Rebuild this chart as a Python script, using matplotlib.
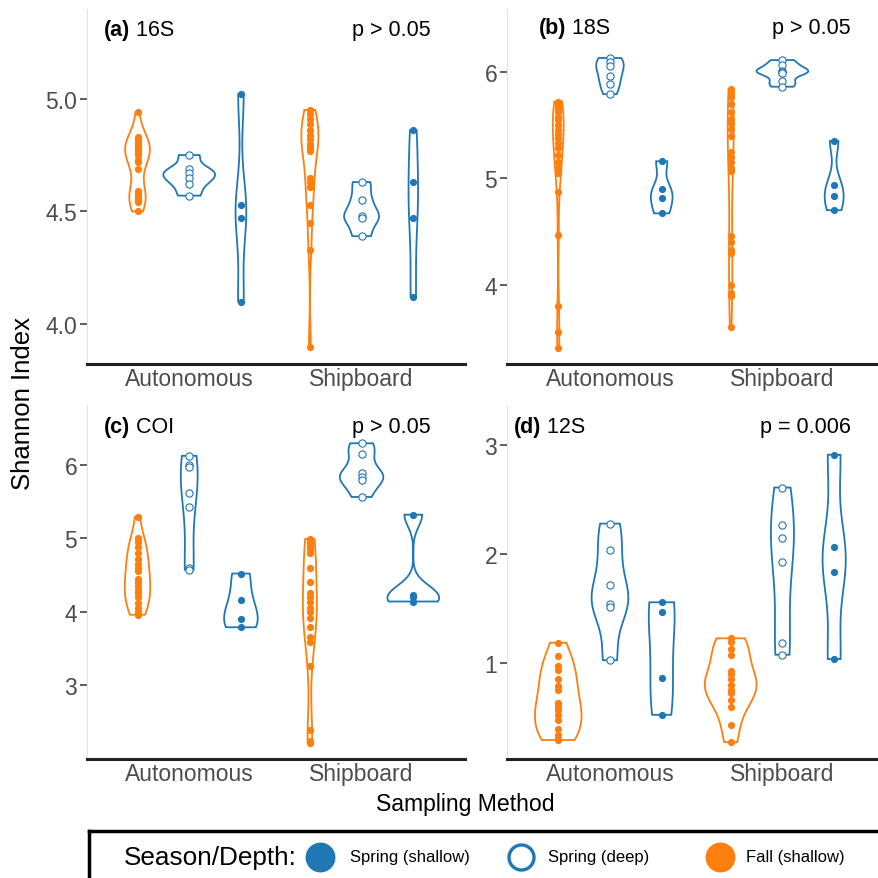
import numpy as np
import matplotlib
matplotlib.use("Agg")
import matplotlib.pyplot as plt

plt.rcParams['font.family'] = ['Liberation Sans', 'DejaVu Sans']

# ---------------- data ----------------
methods = ["Autonomous", "Shipboard"]
groups = ["Fall (shallow)", "Spring (deep)", "Spring (shallow)"]
legend_order = ["Spring (shallow)", "Spring (deep)", "Fall (shallow)"]

# 16S
s16_auto_fall = [4.94, 4.83, 4.82, 4.81, 4.80, 4.79, 4.78, 4.77, 4.76, 4.75, 4.73, 4.72, 4.69,
                 4.59, 4.58, 4.57, 4.56, 4.55, 4.54, 4.50]
s16_auto_deep = [4.75, 4.69, 4.67, 4.65, 4.62, 4.57]
s16_auto_shal = [5.02, 4.53, 4.47, 4.10]
s16_ship_fall = [4.95, 4.93, 4.91, 4.89, 4.86, 4.84, 4.82, 4.80, 4.79, 4.78, 4.77, 4.65, 4.63,
                 4.61, 4.53, 4.45, 4.33, 3.90]
s16_ship_deep = [4.63, 4.55, 4.48, 4.47, 4.39]
s16_ship_shal = [4.86, 4.63, 4.47, 4.12]

# 18S
s18_auto_fall = [5.72, 5.70, 5.68, 5.65, 5.62, 5.58, 5.55, 5.50, 5.45, 5.42, 5.38, 5.33, 5.28,
                 5.22, 5.15, 5.10, 5.05, 4.87, 4.47, 3.80, 3.56, 3.41]
s18_auto_deep = [6.13, 6.09, 6.05, 5.96, 5.89, 5.79]
s18_auto_shal = [5.16, 4.90, 4.81, 4.67]
s18_ship_fall = [5.84, 5.80, 5.76, 5.70, 5.62, 5.56, 5.52, 5.46, 5.40, 5.25, 5.20, 5.15, 5.10,
                 5.07, 4.46, 4.40, 4.33, 4.30, 4.00, 3.92, 3.89, 3.60]
s18_ship_deep = [6.11, 6.06, 6.01, 6.00, 5.99, 5.91, 5.86]
s18_ship_shal = [5.35, 4.94, 4.83, 4.70]

# COI
coi_auto_fall = [5.29, 5.00, 4.95, 4.88, 4.80, 4.72, 4.65, 4.60, 4.55, 4.45, 4.40, 4.35, 4.30,
                 4.25, 4.20, 4.12, 4.05, 4.00, 3.96]
coi_auto_deep = [6.12, 6.00, 5.97, 5.61, 5.43, 4.59, 4.57]
coi_auto_shal = [4.52, 4.16, 3.90, 3.79]
coi_ship_fall = [4.99, 4.95, 4.90, 4.85, 4.80, 4.59, 4.40, 4.25, 4.20, 4.13, 4.05, 4.00, 3.92,
                 3.79, 3.66, 3.59, 3.27, 2.39, 2.25, 2.22]
coi_ship_deep = [6.29, 6.15, 5.89, 5.83, 5.79, 5.56]
coi_ship_shal = [5.32, 4.23, 4.20, 4.14]

# 12S
s12_auto_fall = [1.19, 1.07, 0.98, 0.94, 0.86, 0.79, 0.76, 0.64, 0.61, 0.57, 0.53, 0.48, 0.40,
                 0.35, 0.31, 0.30]
s12_auto_deep = [2.28, 2.04, 1.72, 1.54, 1.52, 1.03]
s12_auto_shal = [1.56, 1.47, 0.87, 0.53]
s12_ship_fall = [1.23, 1.20, 1.13, 1.08, 0.93, 0.90, 0.86, 0.80, 0.76, 0.73, 0.67, 0.60, 0.44, 0.28]
s12_ship_deep = [2.61, 2.27, 2.15, 1.93, 1.19, 1.08]
s12_ship_shal = [2.91, 2.07, 1.84, 1.04]

panel_letters = ["(a)", "(b)", "(c)", "(d)"]
panel_markers = ["16S", "18S", "COI", "12S"]
panel_pvals = ["p > 0.05", "p > 0.05", "p > 0.05", "p = 0.006"]
panel_yticks = [[4.0, 4.5, 5.0], [4, 5, 6], [3, 4, 5, 6], [1, 2, 3]]
panel_ytick_labels = [["4.0", "4.5", "5.0"], ["4", "5", "6"], ["3", "4", "5", "6"], ["1", "2", "3"]]

panel_data = [
    [[s16_auto_fall, s16_auto_deep, s16_auto_shal], [s16_ship_fall, s16_ship_deep, s16_ship_shal]],
    [[s18_auto_fall, s18_auto_deep, s18_auto_shal], [s18_ship_fall, s18_ship_deep, s18_ship_shal]],
    [[coi_auto_fall, coi_auto_deep, coi_auto_shal], [coi_ship_fall, coi_ship_deep, coi_ship_shal]],
    [[s12_auto_fall, s12_auto_deep, s12_auto_shal], [s12_ship_fall, s12_ship_deep, s12_ship_shal]],
]

# ---------------- styles ----------------
ORANGE = "#ff7f0e"
BLUE = "#1f77b4"
group_color = {"Fall (shallow)": ORANGE, "Spring (deep)": BLUE, "Spring (shallow)": BLUE}
group_filled = {"Fall (shallow)": True, "Spring (deep)": False, "Spring (shallow)": True}

W, H = 879, 879
fig = plt.figure(figsize=(W / 100, H / 100), dpi=100)

def box(l, r, t, b):
    return [l / W, 1 - b / H, (r - l) / W, (b - t) / H]

panel_boxes = [box(87, 465, 10, 365), box(507, 879, 10, 365),
               box(87, 465, 406, 760), box(507, 879, 406, 760)]
panel_ylim = [(3.823, 5.398), (3.255, 6.59), (2.0, 6.81), (0.126, 3.365)]
panel_xlim = [(0.407, 2.6), (0.403, 2.56), (0.407, 2.6), (0.403, 2.56)]
title_pos = [(104, 36), (539, 34), (104, 433), (514, 433)]
pval_pos = [(431, 36), (851, 34), (431, 433), (851, 433)]

FS_TITLE = 15.5
FS_TICK = 16.5
DODGE = 0.9
NG = len(groups)


def kde_nrd0(vals, grid):
    v = np.asarray(vals, float)
    n = len(v)
    sd = np.std(v, ddof=1)
    q75, q25 = np.percentile(v, [75, 25])
    iqr = (q75 - q25) / 1.34
    lo = min(sd, iqr) if iqr > 0 else sd
    bw = 0.9 * lo * n ** (-0.2)
    z = (grid[:, None] - v[None, :]) / bw
    return np.exp(-0.5 * z ** 2).sum(axis=1) / (n * bw * np.sqrt(2 * np.pi))


for p in range(4):
    ax = fig.add_axes(panel_boxes[p])
    ax.set_xlim(*panel_xlim[p])
    ax.set_ylim(*panel_ylim[p])
    curves = []
    for mi, m in enumerate(methods):
        for gi, g in enumerate(groups):
            vals = panel_data[p][mi][gi]
            grid = np.linspace(min(vals), max(vals), 512)
            dens = kde_nrd0(vals, grid)
            xc = (mi + 1) + (gi - (NG - 1) / 2) * DODGE / NG
            curves.append((xc, grid, dens, vals, g))
    dmax = max(c[2].max() for c in curves)
    half = DODGE / NG / 2
    for xc, grid, dens, vals, g in curves:
        wv = dens / dmax * half
        xs = np.concatenate([xc - wv, (xc + wv)[::-1]])
        ys = np.concatenate([grid, grid[::-1]])
        ax.fill(xs, ys, facecolor="none", edgecolor=group_color[g], linewidth=1.3, zorder=2)
        col = group_color[g]
        if group_filled[g]:
            ax.plot(np.full(len(vals), xc), vals, "o", color=col, markersize=5.2,
                    markeredgewidth=0, zorder=3)
        else:
            ax.plot(np.full(len(vals), xc), vals, "o", markerfacecolor="white",
                    markeredgecolor=col, markersize=5.2, markeredgewidth=0.8, zorder=3)

    for s in ["top", "right"]:
        ax.spines[s].set_visible(False)
    ax.spines["left"].set_color("#e3e3e3")
    ax.spines["left"].set_linewidth(0.8)
    ax.spines["bottom"].set_color("#222222")
    ax.spines["bottom"].set_linewidth(2.2)
    ax.set_yticks(panel_yticks[p])
    ax.set_yticklabels(panel_ytick_labels[p])
    ax.set_xticks([1, 2])
    ax.set_xticklabels(methods)
    ax.tick_params(axis="y", length=5, width=1.1, color="#333333", labelsize=FS_TICK,
                   labelcolor="#4d4d4d", pad=2)
    ax.tick_params(axis="x", length=0, labelsize=FS_TICK, labelcolor="#4d4d4d", pad=2)
    ax.patch.set_alpha(0)

    tx, ty = title_pos[p]
    t1 = fig.text(tx / W, 1 - ty / H, panel_letters[p], fontsize=FS_TITLE, fontweight="bold",
                  ha="left", va="baseline", color="black")
    ax.annotate(" " + panel_markers[p], xy=(1, 0), xycoords=t1, fontsize=FS_TITLE,
                ha="left", va="bottom", color="black", annotation_clip=False)
    px, py = pval_pos[p]
    fig.text(px / W, 1 - py / H, panel_pvals[p], fontsize=FS_TITLE, ha="right", va="baseline",
             color="black")

fig.text(23 / W, 1 - 404 / H, "Shannon Index", rotation=90, fontsize=18.5, ha="center",
         va="center", color="black")
fig.text(465 / W, 1 - 805 / H, "Sampling Method", fontsize=16.6, ha="center", va="center",
         color="black")

# ---------------- legend box ----------------
lax = fig.add_axes([89 / W, -0.05, 1.0, (879 - 832) / H + 0.05])
lax.set_xlim(0, 1)
lax.set_ylim(0, 1)
lax.set_xticks([])
lax.set_yticks([])
for s in lax.spines.values():
    s.set_linewidth(2.5)
    s.set_color("black")
ly = 1 - (858 - 832) / ((879 - 832) + 0.05 * H)

def lx(px):
    return (px - 89) / W

lax.text(lx(124), ly, "Season/Depth:", fontsize=18.8, ha="left", va="center",
         transform=lax.transAxes)
leg_marker_x = {"Spring (shallow)": 320, "Spring (deep)": 521, "Fall (shallow)": 720}
leg_text_x = {"Spring (shallow)": 350, "Spring (deep)": 548, "Fall (shallow)": 746}
for g in legend_order:
    col = group_color[g]
    if group_filled[g]:
        lax.plot([lx(leg_marker_x[g])], [ly], "o", color=col, markersize=21.5, markeredgewidth=0,
                 transform=lax.transAxes, clip_on=False)
    else:
        lax.plot([lx(leg_marker_x[g])], [ly], "o", markerfacecolor="white", markeredgecolor=col,
                 markersize=18, markeredgewidth=2.4, transform=lax.transAxes, clip_on=False)
    lax.text(lx(leg_text_x[g]), ly, g, fontsize=12, ha="left", va="center",
             transform=lax.transAxes)

fig.savefig("out.png", dpi=100)
